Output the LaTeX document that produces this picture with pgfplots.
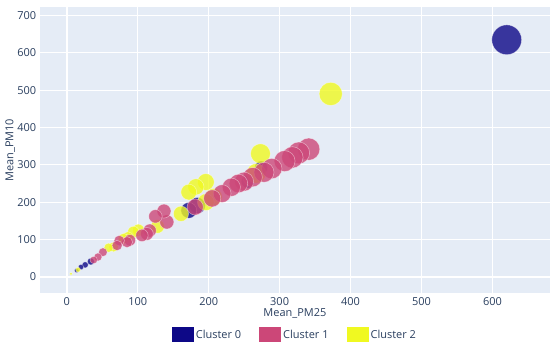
\documentclass[border=0pt]{standalone}
\usepackage{pgfplots}
\pgfplotsset{compat=1.18}
\usepackage{fontspec}
\setmainfont{Open Sans}
\definecolor{bgc}{HTML}{E5ECF6}
\definecolor{txt}{HTML}{2A3F5F}
\definecolor{c0}{HTML}{0D0887}
\definecolor{c1}{HTML}{CC4778}
\definecolor{c2}{HTML}{F0F921}
\pgfplotsset{
  bub/.style={
    only marks, mark=*, scatter, forget plot,
    scatter/use mapped color={draw=white, draw opacity=0.5, line width=0.5bp, fill=#1, fill opacity=0.8},
    visualization depends on={\thisrow{r}\as\perpointmarksize},
    scatter/@pre marker code/.append style={/tikz/mark size=\perpointmarksize},
  }
}
\begin{document}
\begin{tikzpicture}
\begin{axis}[
  scale only axis, width=509.3bp, height=285.4bp,
  xmin=-38, xmax=681, ymin=-44, ymax=722,
  axis background/.style={fill=bgc},
  axis line style={draw=none},
  major tick length=0pt,
  xtick={100,200,...,600}, ytick={100,200,...,700},
  extra x ticks={0}, extra y ticks={0},
  extra tick style={major grid style={white, line width=2bp}},
  grid=major, major grid style={white, line width=1bp},
  /pgf/number format/assume math mode=true,
  ticklabel style={font=\fontsize{11}{13}\selectfont, text=txt},
  xticklabel style={yshift=-1bp},
  xlabel={Mean\_PM25}, ylabel={Mean\_PM10},
  label style={font=\fontsize{11}{13}\selectfont, text=txt},
  xlabel style={at={(axis description cs:0.5,-0.07)}, anchor=center},
  ylabel style={at={(axis description cs:-0.058,0.5)}, anchor=center},
  legend image code/.code={\fill[#1, draw=none] (0bp,-7.5bp) rectangle (22bp,7.5bp);},
  legend style={draw=none, fill=none, at={(axis description cs:0.5,-0.145)}, anchor=center,
    font=\fontsize{11}{13}\selectfont, text=txt,
    /tikz/every even column/.append style={column sep=16bp}},
  legend columns=3,
]
% Cluster 0
\addplot[bub=c0] table {
x y r
620 635 14.9
274 293 6.5
255 255 6.5
184 191 8.1
172 178 7.9
34 41 3.5
26 32 3.1
20 26 2.7
14 17 2.2
};
% Cluster 2
\addplot[bub=c2] table {
x y r
372 490 11.6
273 330 9.9
267 277 9.8
207 214 8.6
196 254 8.4
196 200 8.4
182 241 8.1
172 227 7.9
161 169 7.6
128 135 6.8
101 125 6.0
94 120 5.8
86 106 5.6
80 102 5.4
66 80 4.9
59 78 4.6
16 19 2.4
6 8 1.5
};
% Cluster 1
\addplot[bub=c1] table {
x y r
341 342 11.1
327 332 10.9
318 320 10.7
307 310 10.5
289 290 10.2
278 280 10.0
262 267 9.7
250 255 9.5
242 250 9.3
232 240 9.1
219 223 8.9
205 210 8.6
181 187 8.1
141 147 7.1
137 176 7.0
125 162 6.7
117 124 6.5
113 115 6.4
106 111 6.2
89 98 5.7
85 93 5.5
74 97 5.2
71 84 5.1
51 66 4.3
44 53 4.0
38 45 3.7
};
\addlegendimage{fill=c0}\addlegendentry{Cluster 0}
\addlegendimage{fill=c1}\addlegendentry{Cluster 1}
\addlegendimage{fill=c2}\addlegendentry{Cluster 2}
\end{axis}
\pgfresetboundingbox
\useasboundingbox ([xshift=-39.7bp,yshift=-54.3bp]current axis.south west) rectangle ([yshift=7.3bp]current axis.north east);
\end{tikzpicture}
\end{document}
